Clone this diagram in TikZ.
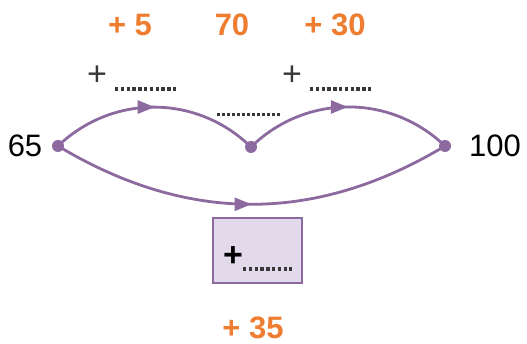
\documentclass[tikz,border=0pt]{standalone}
\usepackage{fontspec}
\setmainfont{Liberation Sans}
\usetikzlibrary{decorations.markings,arrows.meta}
\definecolor{arcpurple}{HTML}{8C6AA0}
\definecolor{boxfill}{HTML}{E2DAEA}
\definecolor{numorange}{HTML}{EE7D31}
\definecolor{dotgray}{HTML}{383838}
\tikzset{
  arc/.style={draw=arcpurple, line width=2.8pt,
    postaction={decorate},
    decoration={markings, mark=at position 0.5 with {\arrow{Triangle[length=17pt,width=13pt]}}}},
  pt/.style={circle, fill=arcpurple, inner sep=0pt, minimum size=12pt},
  orange/.style={text=numorange, font=\fontsize{31}{31}\selectfont\bfseries},
  black/.style={text=black, font=\fontsize{31}{31}\selectfont},
  blank/.style={draw=dotgray, line width=3.6pt, dash pattern=on 3.4pt off 2.4pt},
  plus/.style={text=dotgray, font=\fontsize{34}{34}\selectfont},
  answer/.style={draw=arcpurple, line width=2.6pt, fill=boxfill, minimum width=89pt, minimum height=65pt, inner sep=0pt}
}
\begin{document}
\begin{tikzpicture}[x=1pt,y=1pt]
\useasboundingbox (0,0) rectangle (527,344);
\node[pt] (L) at (58,198) {};
\node[pt] (M) at (251,197) {};
\node[pt] (R) at (445,198) {};
\draw[arc] (L.center) to[bend left=44] (M.center);
\draw[arc] (M.center) to[bend left=44] (R.center);
\draw[arc] (L.center) to[bend right=31] (R.center);
\node[answer] (box) at (257.5,93.5) {};
\node[text=black, font=\fontsize{34}{34}\selectfont\bfseries, inner sep=0pt] (bp) at (233,87) {+};
\coordinate (bd1) at (243,75);
\coordinate (bd2) at (292,75);
\draw[blank, line width=3.2pt] (bd1) -- (bd2);
\node[orange] (t1) at (130,319) {+ 5};
\node[orange] (t2) at (232,319) {70};
\node[orange] (t3) at (335,319) {+ 30};
\node[orange] (t4) at (253,16) {+ 35};
\node[black] (n65) at (25,198) {65};
\node[black] (n100) at (495,198) {100};
\node[plus, inner sep=0pt] (p1) at (97,268) {+};
\node[plus, inner sep=0pt] (p2) at (292,268) {+};
\coordinate (a1) at (115,255); \coordinate (a2) at (178,255);
\coordinate (b1) at (310,255); \coordinate (b2) at (373,255);
\coordinate (c1) at (217,229); \coordinate (c2) at (280,229);
\draw[blank] (a1) -- (a2);
\draw[blank] (b1) -- (b2);
\draw[blank, line width=3pt, dash pattern=on 2.6pt off 2.4pt] (c1) -- (c2);
\end{tikzpicture}
\end{document}
